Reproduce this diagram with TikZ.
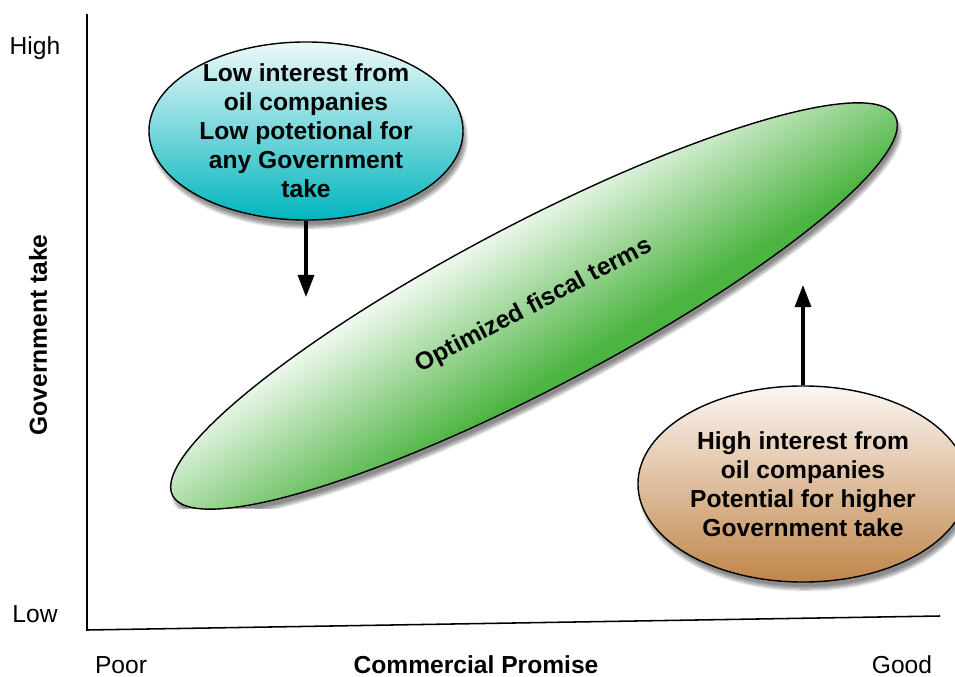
\documentclass[tikz,border=0pt]{standalone}
\usepackage{fontspec}
\setmainfont{Liberation Sans}
\usetikzlibrary{arrows.meta, positioning, shapes.geometric, shadows.blur}
\definecolor{cteal}{HTML}{00B5BE}
\definecolor{ctealtop}{HTML}{EEF9F9}
\definecolor{cgreen}{HTML}{4CB441}
\definecolor{cbrown}{HTML}{C0864A}
\definecolor{cbrowntop}{HTML}{FBF6F2}
\pgfdeclareverticalshading{greenfade}{24cm}{color(0cm)=(cgreen); color(0.6cm)=(cgreen); color(4.9cm)=(white); color(5.6cm)=(white)}
\tikzset{
  every picture/.style={font=\fontsize{17.5}{20.6}\selectfont, line width=1pt},
  bubble/.style 2 args={ellipse, draw=black, top color=#1, bottom color=#2, align=center,
    inner xsep=0pt, inner ysep=-3mm, font=\fontsize{17.5}{20.6}\selectfont\bfseries,
    blur shadow={shadow xshift=2pt, shadow yshift=-5pt, shadow blur steps=10, shadow opacity=45}},
  arrow/.style={-{Triangle[length=5.5mm, width=4mm]}, draw=black, line width=2.2pt},
  tick/.style={font=\fontsize{17.5}{20.6}\selectfont, inner sep=0pt},
  axistitle/.style={font=\fontsize{17.5}{20.6}\selectfont\bfseries, inner sep=0pt},
}

\begin{document}
\begin{tikzpicture}[x=0.025cm, y=-0.025cm]
  \useasboundingbox (0,0) rectangle (955,677);
  % axes
  \coordinate (ytop) at (87,14);
  \coordinate (origin) at (87,630);
  \coordinate (xend) at (940,616);
  \draw[line width=1.1pt] (ytop) -- (origin) -- (xend);
  \node[tick] (high) at (35,48) {High};
  \node[tick] (low) at (35,614) {Low};
  \node[tick] (poor) at (121,665) {Poor};
  \node[tick] (good) at (902,665) {Good};
  \node[axistitle] (xtitle) at (476,665) {Commercial Promise};
  \node[axistitle, rotate=90] (ytitle) at (38,335) {Government take};
  % bubbles
  \node[bubble={white}{cgreen}, rotate=27.7, minimum width=20.4cm, minimum height=4.1cm,
    path picture={\node[rotate=32, inner sep=0pt] (optimfade) at (path picture bounding box.center) {\pgfuseshading{greenfade}};}]
    (optim) at (534,306) {Optimized fiscal terms};
  \node[bubble={ctealtop}{cteal}, minimum width=7.85cm, minimum height=4.45cm] (lowint) at (306,131)
    {Low interest from\\oil companies\\Low potetional for\\any Government\\take};
  \node[bubble={cbrowntop}{cbrown}, minimum width=8.25cm, minimum height=4.9cm] (highint) at (803,484)
    {High interest from\\oil companies\\Potential for higher\\Government take};
  % arrows
  \coordinate (lowtip) at (306,297);
  \coordinate (hightip) at (803,285);
  \draw[arrow] (lowint.south) -- (lowtip);
  \draw[arrow] (highint.north) -- (hightip);
\end{tikzpicture}
\end{document}
